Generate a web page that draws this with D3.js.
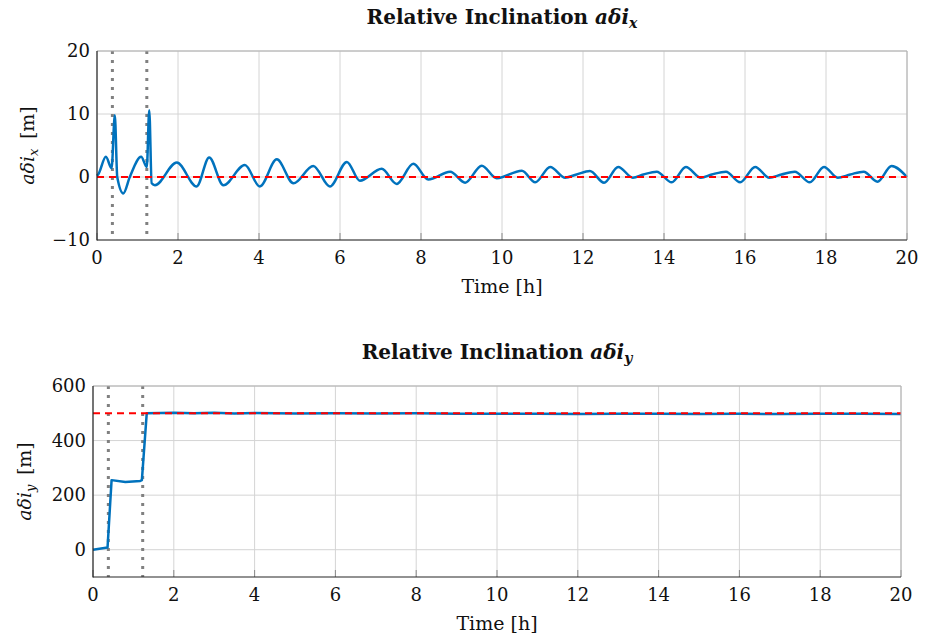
<!DOCTYPE html>
<html>
<head>
<meta charset="utf-8">
<script src="https://cdn.jsdelivr.net/npm/d3@7"></script>
<style>
  body { margin: 0; background: #fff; }
  svg { display: block; font-family: "DejaVu Serif", serif; }
</style>
</head>
<body>
<svg id="chart" width="932" height="642"></svg>
<script>
// time [h] / value pairs
const ixTime = [0, 0.03, 0.22, 0.36, 0.44, 0.5, 0.65, 0.81, 1.09, 1.23, 1.29, 1.35, 1.43, 1.97, 2.46, 2.77, 3.12, 3.65, 4.02, 4.44, 4.85,
  5.34, 5.75, 6.17, 6.49, 7.03, 7.40, 7.81, 8.18, 8.72, 9.09, 9.50, 9.87, 10.49, 10.82, 11.19, 11.56, 11.84, 12.17, 12.52, 12.87,
  13.23, 13.49, 13.82, 14.19, 14.54, 14.91, 15.18, 15.53, 15.88, 16.25, 16.6, 16.9, 17.23, 17.6, 17.95, 18.29, 18.6, 18.93, 19.27, 19.62, 20];
const ixValue = [0.2, 0.4, 3.2, 1.4, 9.8, 0, -2.6, 0, 3.2, 1.6, 10.6, -1.0, -1.3, 2.3, -1.5, 3.1, -1.3, 1.9, -1.5, 2.8, -1.0,
  1.75, -1.5, 2.4, -0.6, 1.3, -1.1, 2.1, -0.4, 0.85, -0.9, 1.8, -0.2, 1.0, -0.85, 1.6, -0.1, 0.4, 0.95, -0.9, 1.6,
  -0.1, 0.4, 0.85, -0.85, 1.6, -0.1, 0.4, 0.85, -0.85, 1.6, -0.1, 0.4, 0.85, -0.85, 1.6, -0.1, 0.4, 0.85, -0.75, 1.75, 0];

const iyTime = [0, 0.36, 0.46, 0.8, 1.17, 1.21, 1.33, 2, 2.5, 3, 3.5, 4, 5, 6, 7, 8, 9, 10, 11, 12, 13, 14, 15, 16, 17, 18, 19, 20];
const iyValue = [0, 8, 255, 248, 252, 255, 500, 502, 500, 502, 499, 501, 499, 500, 499, 500, 498, 498, 498, 497, 498, 498, 497, 498, 497, 498, 498, 497];

const maneuverTimes = [0.38, 1.23];
const xTicks = [0, 2, 4, 6, 8, 10, 12, 14, 16, 18, 20];
const ixTicks = [-10, 0, 10, 20];
const iyTicks = [0, 200, 400, 600];
const ixTarget = 0;
const iyTarget = 500;

const svg = d3.select("#chart");
const fmt = d => d < 0 ? "\u2212" + Math.abs(d) : String(d);

const drawPanel = (opt) => {
  const g = svg.append("g").attr("transform", `translate(${opt.left},${opt.top})`);
  const x = d3.scaleLinear().domain([0, 20]).range([0, opt.width]);
  const y = d3.scaleLinear().domain(opt.yDomain).range([opt.height, 0]);

  // grid
  g.selectAll(".gx").data(xTicks).enter().append("line")
    .attr("x1", d => x(d)).attr("x2", d => x(d)).attr("y1", 0).attr("y2", opt.height)
    .attr("stroke", "#d4d4d4").attr("stroke-width", 1);
  g.selectAll(".gy").data(opt.yTicks).enter().append("line")
    .attr("x1", 0).attr("x2", opt.width).attr("y1", d => y(d)).attr("y2", d => y(d))
    .attr("stroke", "#d4d4d4").attr("stroke-width", 1);

  // inner ticks
  g.selectAll(".tx").data(xTicks).enter().append("line")
    .attr("x1", d => x(d)).attr("x2", d => x(d)).attr("y1", opt.height).attr("y2", opt.height - 7)
    .attr("stroke", "#8a8a8a").attr("stroke-width", 1);

  // maneuver markers
  g.selectAll(".mv").data(maneuverTimes).enter().append("line")
    .attr("x1", d => x(d)).attr("x2", d => x(d)).attr("y1", 0).attr("y2", opt.height)
    .attr("stroke", "#808080").attr("stroke-width", 3).attr("stroke-dasharray", "3,6");

  const line = d3.line().x(d => x(d[0])).y(d => y(d[1])).curve(opt.curve);
  g.append("path").datum(d3.zip(opt.times, opt.values))
    .attr("d", line).attr("fill", "none")
    .attr("stroke", "#0072BD").attr("stroke-width", 2.5).attr("stroke-linejoin", "round");

  g.append("line").attr("x1", 0).attr("x2", opt.width)
    .attr("y1", y(opt.target)).attr("y2", y(opt.target))
    .attr("stroke", "#ff0000").attr("stroke-width", 2).attr("stroke-dasharray", "7,5");

  // box
  g.append("line").attr("x1", 0).attr("x2", opt.width).attr("y1", 0).attr("y2", 0).attr("stroke", "#b0b0b0");
  g.append("line").attr("x1", opt.width).attr("x2", opt.width).attr("y1", 0).attr("y2", opt.height).attr("stroke", "#b0b0b0");
  g.append("line").attr("x1", 0).attr("x2", 0).attr("y1", 0).attr("y2", opt.height + 0.5).attr("stroke", "#262626").attr("stroke-width", 1.2);
  g.append("line").attr("x1", 0).attr("x2", opt.width).attr("y1", opt.height).attr("y2", opt.height).attr("stroke", "#262626").attr("stroke-width", 1.2);

  // tick labels
  g.selectAll(".lx").data(xTicks).enter().append("text")
    .attr("x", d => x(d)).attr("y", opt.height + 24)
    .attr("text-anchor", "middle").attr("font-size", 18).attr("fill", "#111")
    .text(fmt);
  g.selectAll(".ly").data(opt.yTicks).enter().append("text")
    .attr("x", -7).attr("y", d => y(d) + 6)
    .attr("text-anchor", "end").attr("font-size", 18).attr("fill", "#111")
    .text(fmt);

  g.append("text").attr("x", opt.width / 2).attr("y", opt.height + 53)
    .attr("text-anchor", "middle").attr("font-size", 19).attr("fill", "#111")
    .text("Time [h]");

  // y label
  const yl = g.append("text")
    .attr("transform", `translate(${opt.ylabelX},${opt.height / 2}) rotate(-90)`)
    .attr("text-anchor", "middle").attr("font-size", 19).attr("fill", "#111");
  yl.append("tspan").attr("font-style", "italic").text("aδi");
  yl.append("tspan").attr("font-style", "italic").attr("font-size", 13).attr("dy", 4).text(opt.sub);
  yl.append("tspan").attr("dy", -4).text("\u2002[m]");

  // title
  const t = g.append("text").attr("x", opt.width / 2).attr("y", -27)
    .attr("text-anchor", "middle").attr("font-size", 20).attr("font-weight", "bold").attr("fill", "#111");
  t.append("tspan").text("Relative Inclination ");
  t.append("tspan").attr("font-style", "italic").text("aδi");
  t.append("tspan").attr("font-style", "italic").attr("font-size", 14).attr("dy", 4).text(opt.sub);
};

drawPanel({
  left: 97, top: 51, width: 810, height: 189,
  yDomain: [-10, 20], yTicks: ixTicks,
  times: ixTime, values: ixValue, target: ixTarget,
  curve: d3.curveMonotoneX, sub: "x", ylabelX: -63
});

drawPanel({
  left: 93, top: 386, width: 808, height: 191,
  yDomain: [-100, 600], yTicks: iyTicks,
  times: iyTime, values: iyValue, target: iyTarget,
  curve: d3.curveLinear, sub: "y", ylabelX: -62
});
</script>
</body>
</html>
